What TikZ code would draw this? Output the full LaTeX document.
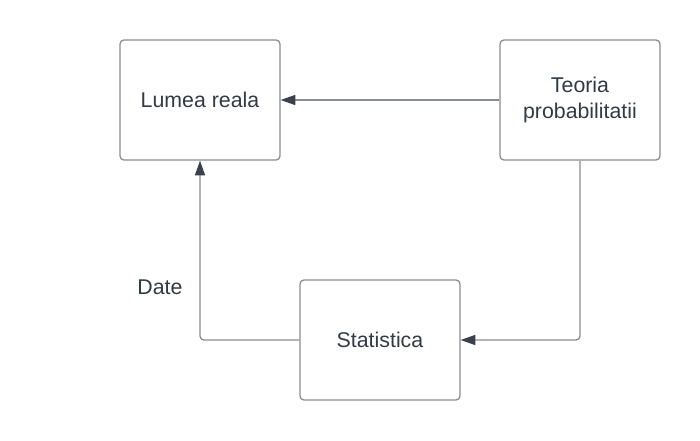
\documentclass[tikz,border=0pt]{standalone}
\usepackage{fontspec}
\setmainfont{Liberation Sans}
\usetikzlibrary{arrows.meta}
\definecolor{boxline}{HTML}{8A8D91}
\definecolor{txt}{HTML}{333A45}
\definecolor{tip}{HTML}{3A414B}

\begin{document}
\begin{tikzpicture}[x=0.75pt, y=-0.75pt]
		%%%%% START %%%%%
		\tikzset{box/.style={draw=boxline, line width=1pt, rounded corners=3pt, minimum width=120pt, minimum height=90pt, align=center, text=txt, font=\fontsize{16}{20}\selectfont},
			link/.style={draw=boxline, line width=1pt, rounded corners=3pt, -{Triangle[length=11pt, width=7.5pt, color=tip]}}}
		
		\useasboundingbox[fill=white] (0, 0) rectangle (700, 440);
		
		\node[box] (lumea) at (200, 100) {Lumea reala};
		\node[box] (teoria) at (580, 100) {Teoria\\probabilitatii};
		\node[box] (stat) at (380, 340) {Statistica};
		
		\draw[link] (teoria.west) -- (lumea.east);
		\draw[link] (teoria.south) |- (stat.east);
		\draw[link] (stat.west) -| (lumea.south);
		
		\node[text=txt, font=\fontsize{16}{20}\selectfont] (date) at (160, 287) {Date};
		%%%%% END %%%%%
	\end{tikzpicture}
\end{document}
